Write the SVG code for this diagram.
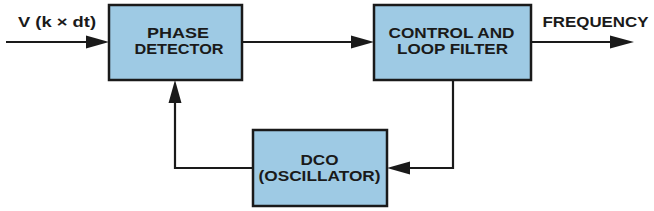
<svg xmlns="http://www.w3.org/2000/svg" width="654" height="211" viewBox="0 0 654 211">
<defs>
<style>
.box{fill:#9ecae4;stroke:#1a1a1a;stroke-width:2.5}
.t{font-family:"Liberation Sans",Arial,sans-serif;font-weight:bold;font-size:15.5px;fill:#1a1a1a;text-anchor:middle}
.c{fill:none;stroke:#1a1a1a;stroke-width:2.2}
.ah{fill:#1a1a1a}
</style>
</defs>
<rect width="654" height="211" fill="#ffffff"/>
<g id="connectors">
<path class="c" d="M6 42H88"/>
<polygon class="ah" points="109,42 86,35.5 86,48.5"/>
<path class="c" d="M242 42H354"/>
<polygon class="ah" points="374,42 351,35.5 351,48.5"/>
<path class="c" d="M531 42H612"/>
<polygon class="ah" points="634,42 610,35.5 610,48.5"/>
<path class="c" d="M453 80V168H407"/>
<polygon class="ah" points="387,168 410,161.5 410,174.5"/>
<path class="c" d="M253 168H175V100"/>
<polygon class="ah" points="175,80 168.5,103 181.5,103"/>
<text class="t" x="57" y="27" textLength="78" lengthAdjust="spacingAndGlyphs">V (k × dt)</text>
<text class="t" x="595.5" y="27" textLength="106" lengthAdjust="spacingAndGlyphs">FREQUENCY</text>
</g>
<g id="phase-detector">
<rect class="box" x="109" y="5" width="133" height="75"/>
<text class="t" x="178" y="38.3" textLength="62" lengthAdjust="spacingAndGlyphs">PHASE</text>
<text class="t" x="179" y="54" textLength="89" lengthAdjust="spacingAndGlyphs">DETECTOR</text>
</g>
<g id="control-loop-filter">
<rect class="box" x="374" y="5" width="157" height="75"/>
<text class="t" x="451.5" y="38.3" textLength="126" lengthAdjust="spacingAndGlyphs">CONTROL AND</text>
<text class="t" x="452.5" y="54" textLength="111" lengthAdjust="spacingAndGlyphs">LOOP FILTER</text>
</g>
<g id="dco">
<rect class="box" x="253" y="130" width="134" height="76"/>
<text class="t" x="319.5" y="164.5" textLength="38" lengthAdjust="spacingAndGlyphs">DCO</text>
<text class="t" x="319.5" y="180.5" textLength="122" lengthAdjust="spacingAndGlyphs">(OSCILLATOR)</text>
</g>
</svg>
